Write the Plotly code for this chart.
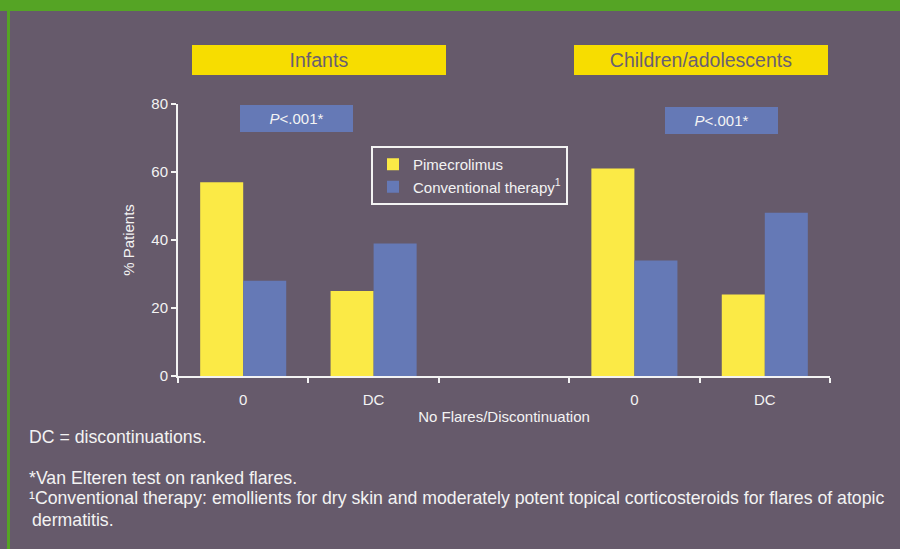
import plotly.graph_objects as go

# ---- data -------------------------------------------------------------
groups = ["Infants", "Children/adolescents"]
outcomes = ["0", "DC"]
pimecrolimus = [57, 25, 61, 24]      # % patients: Infants 0, Infants DC, Children 0, Children DC
conventional = [28, 39, 34, 48]
p_labels = ["<i>P</i>&lt;.001*", "<i>P</i>&lt;.001*"]
y_ticks = [0, 20, 40, 60, 80]
series_names = ["Pimecrolimus", "Conventional therapy<sup>1</sup>"]
footnotes = [
    "DC = discontinuations.",
    "*Van Elteren test on ranked flares.",
    "\u00b9Conventional therapy: emollients for dry skin and moderately potent topical corticosteroids for flares of atopic",
    "dermatitis.",
]

# ---- styling ----------------------------------------------------------
W, H = 900, 549
BG = "#665A6B"
GREEN = "#55A425"
YELLOW_BAR = "#FBEA46"
YELLOW_BOX = "#F7DD00"
BLUE = "#6579B6"
WHITE = "#F3F3F3"
FONT = "Liberation Sans, Arial, sans-serif"


def px(x):
    return x / W


def py(y):
    return 1 - y / H


# each group gets one slot per outcome plus an empty spacer slot
slot = len(outcomes) + 1
x_pos = [g * slot + k for g in range(len(groups)) for k in range(len(outcomes))]
x_labels = [o for _ in groups for o in outcomes]
n_slots = len(groups) * slot - 1
boundaries = [i - 0.5 for i in range(n_slots + 1)]

fig = go.Figure()
fig.add_trace(go.Bar(x=x_pos, y=pimecrolimus, name=series_names[0],
                     marker=dict(color=YELLOW_BAR, line=dict(width=0))))
fig.add_trace(go.Bar(x=x_pos, y=conventional, name=series_names[1],
                     marker=dict(color=BLUE, line=dict(width=0))))

# plot area in pixels
L, R, T, B = 178, 830, 104, 376

fig.update_layout(
    template="none",
    width=W, height=H,
    margin=dict(l=0, r=0, t=0, b=0),
    paper_bgcolor=BG, plot_bgcolor=BG,
    font=dict(family=FONT, color=WHITE, size=15),
    barmode="group", bargap=0.34, bargroupgap=0,
    showlegend=True,
    legend=dict(x=px(371), y=py(146), xanchor="left", yanchor="top",
                bgcolor="rgba(0,0,0,0)", bordercolor=WHITE, borderwidth=2,
                font=dict(size=15, color=WHITE), traceorder="normal"),
    xaxis=dict(
        domain=[px(L), px(R)], range=[boundaries[0], boundaries[-1]],
        tickmode="array", tickvals=x_pos, ticktext=x_labels, ticks="",
        ticklabelstandoff=9,
        tickfont=dict(size=15, color=WHITE),
        showline=True, linecolor=WHITE, linewidth=2,
        showgrid=False, zeroline=False, automargin=False,
        minor=dict(tickmode="array", tickvals=boundaries, ticks="outside",
                   ticklen=5, tickwidth=2, tickcolor=WHITE, showgrid=False),
        title=dict(text="No Flares/Discontinuation", standoff=4,
                   font=dict(size=15, color=WHITE)),
    ),
    yaxis=dict(
        domain=[py(B), py(T)], range=[0, 80],
        tickmode="array", tickvals=y_ticks, ticks="outside",
        ticklen=5, tickwidth=2, tickcolor=WHITE,
        tickfont=dict(size=15, color=WHITE),
        showline=True, linecolor=WHITE, linewidth=2,
        showgrid=False, zeroline=False, automargin=False,
        title=dict(text="% Patients", standoff=13,
                   font=dict(size=15, color=WHITE)),
    ),
)

# green frame at top and left edge
fig.add_shape(type="rect", xref="paper", yref="paper", x0=0, x1=1, y0=py(11), y1=1,
              fillcolor=GREEN, line=dict(width=0), layer="above")
fig.add_shape(type="rect", xref="paper", yref="paper", x0=px(7), x1=px(10), y0=0, y1=py(11),
              fillcolor=GREEN, line=dict(width=0), layer="above")

# group headers
header_boxes = [(319, 60), (700.5, 60)]
for name, (cx, cy) in zip(groups, header_boxes):
    fig.add_annotation(xref="paper", yref="paper", x=px(cx), y=py(cy),
                       xanchor="center", yanchor="middle", showarrow=False,
                       text=name, width=254, height=30, bgcolor=YELLOW_BOX,
                       borderpad=0, borderwidth=0,
                       font=dict(size=19.5, color="#6A5F72", family=FONT))

# significance labels
p_boxes = [(296.4, 118.3), (721.3, 120.3)]
for txt, (cx, cy) in zip(p_labels, p_boxes):
    fig.add_annotation(xref="paper", yref="paper", x=px(cx), y=py(cy),
                       xanchor="center", yanchor="middle", showarrow=False,
                       text=txt, width=113, height=27, bgcolor=BLUE,
                       borderpad=0, borderwidth=0,
                       font=dict(size=15, color=WHITE, family=FONT))

# footnotes
foot_pos = [(27, 436.5), (27, 478.3), (27, 498.3), (30, 520.4)]
for txt, (x0, cy) in zip(footnotes, foot_pos):
    fig.add_annotation(xref="paper", yref="paper", x=px(x0), y=py(cy),
                       xanchor="left", yanchor="middle", showarrow=False,
                       text=txt, font=dict(size=17.7, color=WHITE, family=FONT))

fig.write_html("out.html")
